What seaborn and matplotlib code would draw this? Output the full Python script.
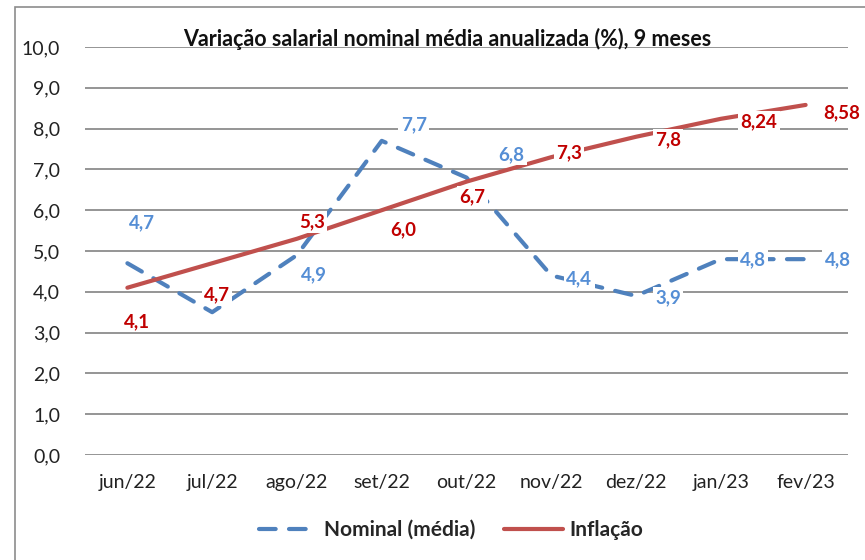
import pandas as pd
import seaborn as sns
import matplotlib.pyplot as plt
from matplotlib.patches import Rectangle

# dados
meses = ["jun/22", "jul/22", "ago/22", "set/22", "out/22", "nov/22", "dez/22", "jan/23", "fev/23"]
nominal = [4.7, 3.5, 4.9, 7.7, 6.8, 4.4, 3.9, 4.8, 4.8]
inflacao = [4.1, 4.7, 5.3, 6.0, 6.7, 7.3, 7.8, 8.24, 8.58]
rotulos_nominal = ["4,7", None, "4,9", "7,7", "6,8", "4,4", "3,9", "4,8", "4,8"]
rotulos_inflacao = ["4,1", "4,7", "5,3", "6,0", "6,7", "7,3", "7,8", "8,24", "8,58"]

# deslocamento dos rótulos (pixels)
desloc_nominal = [(15, 40), (0, 0), (17, -20), (32, 16), (45, 23), (28, -3), (32, -2), (32, -1), (32, -1)]
desloc_inflacao = [(10, -34), (5, -32), (15, 17), (22, -20), (6, -15), (18, 4), (32, -3), (38, -3), (36, -8)]

azul = "#4F81BD"
azul_txt = "#558ED5"
vermelho = "#C0504D"
vermelho_txt = "#C00000"

df = pd.DataFrame({"x": range(len(meses)), "mes": meses,
                   "nominal": nominal, "inflacao": inflacao})

sns.set_style("white")
plt.rcParams["font.family"] = ["Lato", "DejaVu Sans"]

fig = plt.figure(figsize=(8.65, 5.6), dpi=100)
ax = fig.add_axes([85 / 865, 1 - 455 / 560, (848 - 85) / 865, (455 - 47) / 560])

# moldura do gráfico
fig.patches.append(Rectangle((15 / 865, -0.05), 1.0, 1.05 - 7 / 560, transform=fig.transFigure,
                             fill=False, edgecolor="#8c8c8c", linewidth=1.2, zorder=0))

sns.lineplot(data=df, x="x", y="nominal", ax=ax, color=azul, linewidth=3,
             label="Nominal (média)", zorder=3)
ax.lines[-1].set_dashes((4, 3.2))
ax.lines[-1].set_dash_capstyle("round")
sns.lineplot(data=df, x="x", y="inflacao", ax=ax, color=vermelho, linewidth=3,
             label="Inflação", zorder=3)
ax.lines[-1].set_solid_capstyle("round")

for i, (v, t, d) in enumerate(zip(nominal, rotulos_nominal, desloc_nominal)):
    if t is None:
        continue
    ax.annotate(t, (i, v), xytext=d, textcoords="offset pixels", ha="center", va="center",
                fontsize=13.5, fontweight="bold", color=azul_txt, zorder=5,
                bbox=dict(boxstyle="square,pad=0.12", fc="white", ec="none"))

for i, (v, t, d) in enumerate(zip(inflacao, rotulos_inflacao, desloc_inflacao)):
    ax.annotate(t, (i, v), xytext=d, textcoords="offset pixels", ha="center", va="center",
                fontsize=13.5, fontweight="bold", color=vermelho_txt, zorder=6,
                bbox=dict(boxstyle="square,pad=0.12", fc="white", ec="none"))

ax.set_xlim(-0.5, len(meses) - 0.5)
ax.set_ylim(0, 10)
ax.set_xticks(range(len(meses)))
ax.set_xticklabels(meses)
ax.set_yticks([i for i in range(11)])
ax.set_yticklabels([f"{i},0" for i in range(11)])
ax.tick_params(axis="both", labelsize=14, colors="#222222", length=0)
ax.tick_params(axis="x", pad=14)
ax.tick_params(axis="y", pad=18)
ax.grid(axis="y", color="#8c8c8c", linewidth=1.3)
ax.set_axisbelow(True)
for s in ax.spines.values():
    s.set_visible(False)
ax.set_xlabel("")
ax.set_ylabel("")
ax.patch.set_alpha(0)

fig.text(447 / 865, 1 - 39 / 560, "Variação salarial nominal média anualizada (%), 9 meses",
         ha="center", va="center", fontsize=15.5, fontweight="bold", color="#111111")

leg = ax.legend(loc="center", bbox_to_anchor=(451 / 865, 1 - 530 / 560),
                bbox_transform=fig.transFigure, ncol=2, frameon=False,
                prop={"size": 15, "weight": "bold"}, handlelength=2.8,
                handletextpad=0.3, columnspacing=1.4)

plt.savefig("out.png", dpi=100)
